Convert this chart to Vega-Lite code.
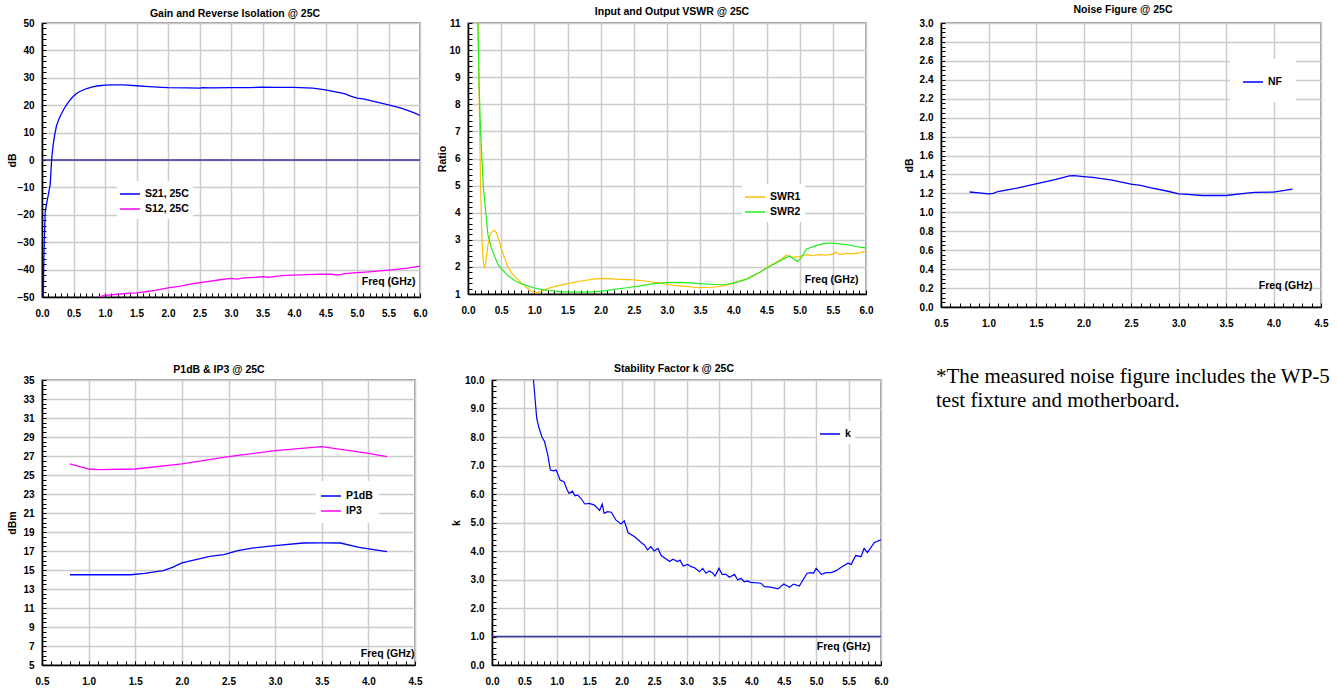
{
  "$schema": "https://vega.github.io/schema/vega-lite/v6.json",
  "background": "white",
  "padding": {"left": 6, "top": 3, "right": 0, "bottom": 0},
  "config": {
    "font": "Liberation Sans",
    "view": {"stroke": "#808080", "strokeWidth": 1.5},
    "title": {"font": "Liberation Sans", "fontSize": 10.5, "fontWeight": "bold", "color": "black", "baseline": "alphabetic", "frame": "group"},
    "axis": {
      "labelFont": "Liberation Sans", "labelFontSize": 10, "labelFontWeight": "bold", "labelColor": "black",
      "titleFont": "Liberation Sans", "titleFontSize": 10.5, "titleFontWeight": "bold", "titleColor": "black",
      "domainColor": "black", "domainWidth": 1.5,
      "tickColor": "black", "tickWidth": 1, "tickSize": -4,
      "gridColor": "#cccccc", "gridWidth": 1.5,
      "labelOverlap": false, "labelFlush": false, "labelBound": false
    },
    "axisX": {"labelPadding": 15.5},
    "axisY": {"labelPadding": 12}
  },
  "datasets": {
    "gain": [
      {"f":0.02,"v":-50,"s":"S21, 25C"},{"f":0.03,"v":-35,"s":"S21, 25C"},{"f":0.05,"v":-19,"s":"S21, 25C"},{"f":0.08,"v":-15,"s":"S21, 25C"},{"f":0.11,"v":-11.5,"s":"S21, 25C"},{"f":0.13,"v":-9,"s":"S21, 25C"},{"f":0.14,"v":-5,"s":"S21, 25C"},{"f":0.15,"v":-1,"s":"S21, 25C"},{"f":0.16,"v":2,"s":"S21, 25C"},{"f":0.18,"v":6,"s":"S21, 25C"},{"f":0.2,"v":9,"s":"S21, 25C"},{"f":0.23,"v":12.5,"s":"S21, 25C"},{"f":0.27,"v":15,"s":"S21, 25C"},{"f":0.3,"v":16.5,"s":"S21, 25C"},{"f":0.35,"v":18.7,"s":"S21, 25C"},{"f":0.4,"v":20.5,"s":"S21, 25C"},{"f":0.45,"v":22,"s":"S21, 25C"},{"f":0.5,"v":23.3,"s":"S21, 25C"},{"f":0.55,"v":24.3,"s":"S21, 25C"},{"f":0.6,"v":25,"s":"S21, 25C"},{"f":0.7,"v":26,"s":"S21, 25C"},{"f":0.8,"v":26.7,"s":"S21, 25C"},{"f":0.9,"v":27.1,"s":"S21, 25C"},{"f":1.0,"v":27.3,"s":"S21, 25C"},{"f":1.1,"v":27.4,"s":"S21, 25C"},{"f":1.3,"v":27.4,"s":"S21, 25C"},{"f":1.5,"v":27.1,"s":"S21, 25C"},{"f":1.7,"v":26.8,"s":"S21, 25C"},{"f":1.9,"v":26.5,"s":"S21, 25C"},{"f":2.0,"v":26.4,"s":"S21, 25C"},{"f":2.3,"v":26.3,"s":"S21, 25C"},{"f":2.5,"v":26.2,"s":"S21, 25C"},{"f":2.55,"v":26.4,"s":"S21, 25C"},{"f":2.7,"v":26.3,"s":"S21, 25C"},{"f":3.0,"v":26.4,"s":"S21, 25C"},{"f":3.3,"v":26.4,"s":"S21, 25C"},{"f":3.5,"v":26.6,"s":"S21, 25C"},{"f":3.7,"v":26.5,"s":"S21, 25C"},{"f":4.0,"v":26.5,"s":"S21, 25C"},{"f":4.2,"v":26.3,"s":"S21, 25C"},{"f":4.3,"v":26.2,"s":"S21, 25C"},{"f":4.5,"v":25.6,"s":"S21, 25C"},{"f":4.7,"v":24.7,"s":"S21, 25C"},{"f":4.8,"v":24.2,"s":"S21, 25C"},{"f":4.9,"v":23.3,"s":"S21, 25C"},{"f":5.0,"v":22.6,"s":"S21, 25C"},{"f":5.1,"v":22.3,"s":"S21, 25C"},{"f":5.3,"v":21.2,"s":"S21, 25C"},{"f":5.5,"v":20.1,"s":"S21, 25C"},{"f":5.7,"v":18.9,"s":"S21, 25C"},{"f":5.9,"v":17.3,"s":"S21, 25C"},{"f":6.0,"v":16.3,"s":"S21, 25C"},
      {"f":0.9,"v":-50,"s":"S12, 25C"},{"f":1.0,"v":-49.4,"s":"S12, 25C"},{"f":1.2,"v":-49,"s":"S12, 25C"},{"f":1.4,"v":-48.6,"s":"S12, 25C"},{"f":1.5,"v":-48.5,"s":"S12, 25C"},{"f":1.7,"v":-47.9,"s":"S12, 25C"},{"f":1.8,"v":-47.6,"s":"S12, 25C"},{"f":2.0,"v":-46.7,"s":"S12, 25C"},{"f":2.2,"v":-46,"s":"S12, 25C"},{"f":2.4,"v":-45.1,"s":"S12, 25C"},{"f":2.5,"v":-44.8,"s":"S12, 25C"},{"f":2.6,"v":-44.5,"s":"S12, 25C"},{"f":2.8,"v":-43.8,"s":"S12, 25C"},{"f":3.0,"v":-43.2,"s":"S12, 25C"},{"f":3.1,"v":-43.5,"s":"S12, 25C"},{"f":3.2,"v":-43,"s":"S12, 25C"},{"f":3.4,"v":-42.8,"s":"S12, 25C"},{"f":3.5,"v":-42.6,"s":"S12, 25C"},{"f":3.6,"v":-42.8,"s":"S12, 25C"},{"f":3.8,"v":-42.2,"s":"S12, 25C"},{"f":4.0,"v":-42,"s":"S12, 25C"},{"f":4.2,"v":-41.8,"s":"S12, 25C"},{"f":4.4,"v":-41.7,"s":"S12, 25C"},{"f":4.6,"v":-41.7,"s":"S12, 25C"},{"f":4.7,"v":-42,"s":"S12, 25C"},{"f":4.8,"v":-41.5,"s":"S12, 25C"},{"f":5.0,"v":-41.1,"s":"S12, 25C"},{"f":5.2,"v":-40.8,"s":"S12, 25C"},{"f":5.4,"v":-40.4,"s":"S12, 25C"},{"f":5.6,"v":-40,"s":"S12, 25C"},{"f":5.8,"v":-39.5,"s":"S12, 25C"},{"f":6.0,"v":-38.7,"s":"S12, 25C"}
    ],
    "vswr": [
      {"f":0.15,"v":11,"s":"SWR1"},{"f":0.17,"v":8,"s":"SWR1"},{"f":0.19,"v":5,"s":"SWR1"},{"f":0.21,"v":3,"s":"SWR1"},{"f":0.23,"v":2.2,"s":"SWR1"},{"f":0.25,"v":1.95,"s":"SWR1"},{"f":0.27,"v":2.2,"s":"SWR1"},{"f":0.3,"v":2.8,"s":"SWR1"},{"f":0.33,"v":3.15,"s":"SWR1"},{"f":0.37,"v":3.32,"s":"SWR1"},{"f":0.4,"v":3.35,"s":"SWR1"},{"f":0.43,"v":3.25,"s":"SWR1"},{"f":0.47,"v":2.95,"s":"SWR1"},{"f":0.5,"v":2.7,"s":"SWR1"},{"f":0.55,"v":2.35,"s":"SWR1"},{"f":0.6,"v":2.0,"s":"SWR1"},{"f":0.65,"v":1.8,"s":"SWR1"},{"f":0.7,"v":1.65,"s":"SWR1"},{"f":0.8,"v":1.42,"s":"SWR1"},{"f":0.9,"v":1.2,"s":"SWR1"},{"f":0.95,"v":1.1,"s":"SWR1"},{"f":1.0,"v":1.05,"s":"SWR1"},{"f":1.05,"v":1.05,"s":"SWR1"},{"f":1.1,"v":1.1,"s":"SWR1"},{"f":1.2,"v":1.2,"s":"SWR1"},{"f":1.3,"v":1.27,"s":"SWR1"},{"f":1.5,"v":1.38,"s":"SWR1"},{"f":1.7,"v":1.48,"s":"SWR1"},{"f":1.9,"v":1.55,"s":"SWR1"},{"f":2.0,"v":1.58,"s":"SWR1"},{"f":2.1,"v":1.57,"s":"SWR1"},{"f":2.3,"v":1.54,"s":"SWR1"},{"f":2.5,"v":1.52,"s":"SWR1"},{"f":2.7,"v":1.47,"s":"SWR1"},{"f":2.9,"v":1.4,"s":"SWR1"},{"f":3.0,"v":1.35,"s":"SWR1"},{"f":3.2,"v":1.3,"s":"SWR1"},{"f":3.4,"v":1.25,"s":"SWR1"},{"f":3.5,"v":1.23,"s":"SWR1"},{"f":3.7,"v":1.25,"s":"SWR1"},{"f":3.9,"v":1.33,"s":"SWR1"},{"f":4.0,"v":1.4,"s":"SWR1"},{"f":4.2,"v":1.55,"s":"SWR1"},{"f":4.4,"v":1.8,"s":"SWR1"},{"f":4.5,"v":1.97,"s":"SWR1"},{"f":4.7,"v":2.25,"s":"SWR1"},{"f":4.8,"v":2.43,"s":"SWR1"},{"f":4.85,"v":2.38,"s":"SWR1"},{"f":4.9,"v":2.35,"s":"SWR1"},{"f":5.0,"v":2.38,"s":"SWR1"},{"f":5.1,"v":2.45,"s":"SWR1"},{"f":5.2,"v":2.42,"s":"SWR1"},{"f":5.3,"v":2.45,"s":"SWR1"},{"f":5.4,"v":2.43,"s":"SWR1"},{"f":5.5,"v":2.47,"s":"SWR1"},{"f":5.55,"v":2.55,"s":"SWR1"},{"f":5.6,"v":2.45,"s":"SWR1"},{"f":5.7,"v":2.5,"s":"SWR1"},{"f":5.8,"v":2.48,"s":"SWR1"},{"f":5.9,"v":2.52,"s":"SWR1"},{"f":6.0,"v":2.58,"s":"SWR1"},
      {"f":0.15,"v":11,"s":"SWR2"},{"f":0.17,"v":8.5,"s":"SWR2"},{"f":0.19,"v":7,"s":"SWR2"},{"f":0.21,"v":6,"s":"SWR2"},{"f":0.23,"v":5,"s":"SWR2"},{"f":0.26,"v":4.2,"s":"SWR2"},{"f":0.3,"v":3.2,"s":"SWR2"},{"f":0.35,"v":2.7,"s":"SWR2"},{"f":0.4,"v":2.4,"s":"SWR2"},{"f":0.45,"v":2.1,"s":"SWR2"},{"f":0.5,"v":1.95,"s":"SWR2"},{"f":0.6,"v":1.68,"s":"SWR2"},{"f":0.7,"v":1.5,"s":"SWR2"},{"f":0.8,"v":1.38,"s":"SWR2"},{"f":0.9,"v":1.3,"s":"SWR2"},{"f":1.0,"v":1.22,"s":"SWR2"},{"f":1.1,"v":1.17,"s":"SWR2"},{"f":1.2,"v":1.13,"s":"SWR2"},{"f":1.4,"v":1.09,"s":"SWR2"},{"f":1.6,"v":1.07,"s":"SWR2"},{"f":1.8,"v":1.07,"s":"SWR2"},{"f":2.0,"v":1.1,"s":"SWR2"},{"f":2.2,"v":1.17,"s":"SWR2"},{"f":2.4,"v":1.23,"s":"SWR2"},{"f":2.6,"v":1.3,"s":"SWR2"},{"f":2.8,"v":1.38,"s":"SWR2"},{"f":3.0,"v":1.42,"s":"SWR2"},{"f":3.2,"v":1.43,"s":"SWR2"},{"f":3.4,"v":1.4,"s":"SWR2"},{"f":3.5,"v":1.38,"s":"SWR2"},{"f":3.7,"v":1.35,"s":"SWR2"},{"f":3.9,"v":1.36,"s":"SWR2"},{"f":4.0,"v":1.4,"s":"SWR2"},{"f":4.2,"v":1.55,"s":"SWR2"},{"f":4.4,"v":1.8,"s":"SWR2"},{"f":4.5,"v":1.95,"s":"SWR2"},{"f":4.7,"v":2.22,"s":"SWR2"},{"f":4.8,"v":2.35,"s":"SWR2"},{"f":4.85,"v":2.4,"s":"SWR2"},{"f":4.9,"v":2.3,"s":"SWR2"},{"f":4.97,"v":2.2,"s":"SWR2"},{"f":5.0,"v":2.28,"s":"SWR2"},{"f":5.05,"v":2.45,"s":"SWR2"},{"f":5.1,"v":2.65,"s":"SWR2"},{"f":5.2,"v":2.75,"s":"SWR2"},{"f":5.3,"v":2.82,"s":"SWR2"},{"f":5.4,"v":2.88,"s":"SWR2"},{"f":5.5,"v":2.88,"s":"SWR2"},{"f":5.6,"v":2.85,"s":"SWR2"},{"f":5.7,"v":2.82,"s":"SWR2"},{"f":5.8,"v":2.78,"s":"SWR2"},{"f":5.9,"v":2.73,"s":"SWR2"},{"f":6.0,"v":2.7,"s":"SWR2"}
    ],
    "nf": [
      {"f":0.8,"v":1.215,"s":"NF"},{"f":0.9,"v":1.205,"s":"NF"},{"f":1.0,"v":1.195,"s":"NF"},{"f":1.05,"v":1.2,"s":"NF"},{"f":1.1,"v":1.22,"s":"NF"},{"f":1.3,"v":1.255,"s":"NF"},{"f":1.5,"v":1.3,"s":"NF"},{"f":1.7,"v":1.345,"s":"NF"},{"f":1.85,"v":1.385,"s":"NF"},{"f":1.9,"v":1.388,"s":"NF"},{"f":2.0,"v":1.378,"s":"NF"},{"f":2.1,"v":1.37,"s":"NF"},{"f":2.3,"v":1.34,"s":"NF"},{"f":2.5,"v":1.297,"s":"NF"},{"f":2.6,"v":1.285,"s":"NF"},{"f":2.7,"v":1.26,"s":"NF"},{"f":2.9,"v":1.22,"s":"NF"},{"f":3.0,"v":1.195,"s":"NF"},{"f":3.1,"v":1.19,"s":"NF"},{"f":3.25,"v":1.178,"s":"NF"},{"f":3.5,"v":1.178,"s":"NF"},{"f":3.7,"v":1.2,"s":"NF"},{"f":3.8,"v":1.21,"s":"NF"},{"f":4.0,"v":1.213,"s":"NF"},{"f":4.2,"v":1.245,"s":"NF"}
    ],
    "pwr": [
      {"f":0.8,"v":14.5,"s":"P1dB"},{"f":1.0,"v":14.5,"s":"P1dB"},{"f":1.45,"v":14.5,"s":"P1dB"},{"f":1.6,"v":14.65,"s":"P1dB"},{"f":1.8,"v":14.93,"s":"P1dB"},{"f":1.9,"v":15.28,"s":"P1dB"},{"f":2.0,"v":15.74,"s":"P1dB"},{"f":2.15,"v":16.1,"s":"P1dB"},{"f":2.3,"v":16.44,"s":"P1dB"},{"f":2.45,"v":16.61,"s":"P1dB"},{"f":2.6,"v":17.03,"s":"P1dB"},{"f":2.75,"v":17.3,"s":"P1dB"},{"f":3.0,"v":17.56,"s":"P1dB"},{"f":3.3,"v":17.84,"s":"P1dB"},{"f":3.5,"v":17.86,"s":"P1dB"},{"f":3.7,"v":17.84,"s":"P1dB"},{"f":3.9,"v":17.39,"s":"P1dB"},{"f":4.2,"v":16.93,"s":"P1dB"},
      {"f":0.8,"v":26.16,"s":"IP3"},{"f":1.0,"v":25.63,"s":"IP3"},{"f":1.1,"v":25.56,"s":"IP3"},{"f":1.5,"v":25.63,"s":"IP3"},{"f":2.0,"v":26.16,"s":"IP3"},{"f":2.5,"v":26.93,"s":"IP3"},{"f":3.0,"v":27.56,"s":"IP3"},{"f":3.5,"v":27.98,"s":"IP3"},{"f":3.8,"v":27.56,"s":"IP3"},{"f":4.0,"v":27.28,"s":"IP3"},{"f":4.2,"v":26.93,"s":"IP3"}
    ],
    "kf": [
      {"f":0.64,"v":10.0,"s":"k"},{"f":0.69,"v":8.65,"s":"k"},{"f":0.72,"v":8.36,"s":"k"},{"f":0.77,"v":8.0,"s":"k"},{"f":0.81,"v":7.84,"s":"k"},{"f":0.86,"v":7.37,"s":"k"},{"f":0.9,"v":6.84,"s":"k"},{"f":0.95,"v":6.81,"s":"k"},{"f":0.99,"v":6.84,"s":"k"},{"f":1.03,"v":6.61,"s":"k"},{"f":1.05,"v":6.49,"s":"k"},{"f":1.11,"v":6.43,"s":"k"},{"f":1.16,"v":6.14,"s":"k"},{"f":1.19,"v":6.02,"s":"k"},{"f":1.24,"v":6.1,"s":"k"},{"f":1.28,"v":5.94,"s":"k"},{"f":1.32,"v":5.96,"s":"k"},{"f":1.37,"v":5.85,"s":"k"},{"f":1.43,"v":5.65,"s":"k"},{"f":1.5,"v":5.67,"s":"k"},{"f":1.58,"v":5.61,"s":"k"},{"f":1.66,"v":5.42,"s":"k"},{"f":1.7,"v":5.65,"s":"k"},{"f":1.73,"v":5.32,"s":"k"},{"f":1.78,"v":5.38,"s":"k"},{"f":1.84,"v":5.36,"s":"k"},{"f":1.91,"v":5.09,"s":"k"},{"f":1.99,"v":4.95,"s":"k"},{"f":2.04,"v":5.06,"s":"k"},{"f":2.1,"v":4.64,"s":"k"},{"f":2.2,"v":4.5,"s":"k"},{"f":2.3,"v":4.3,"s":"k"},{"f":2.35,"v":4.21,"s":"k"},{"f":2.4,"v":4.04,"s":"k"},{"f":2.45,"v":4.15,"s":"k"},{"f":2.5,"v":4.0,"s":"k"},{"f":2.56,"v":4.09,"s":"k"},{"f":2.61,"v":3.84,"s":"k"},{"f":2.74,"v":3.63,"s":"k"},{"f":2.79,"v":3.71,"s":"k"},{"f":2.86,"v":3.63,"s":"k"},{"f":2.9,"v":3.68,"s":"k"},{"f":2.95,"v":3.47,"s":"k"},{"f":3.02,"v":3.53,"s":"k"},{"f":3.07,"v":3.45,"s":"k"},{"f":3.12,"v":3.42,"s":"k"},{"f":3.2,"v":3.27,"s":"k"},{"f":3.25,"v":3.39,"s":"k"},{"f":3.3,"v":3.22,"s":"k"},{"f":3.35,"v":3.3,"s":"k"},{"f":3.4,"v":3.24,"s":"k"},{"f":3.44,"v":3.12,"s":"k"},{"f":3.5,"v":3.39,"s":"k"},{"f":3.55,"v":3.18,"s":"k"},{"f":3.61,"v":3.18,"s":"k"},{"f":3.66,"v":3.08,"s":"k"},{"f":3.74,"v":3.18,"s":"k"},{"f":3.79,"v":2.98,"s":"k"},{"f":3.84,"v":3.04,"s":"k"},{"f":3.89,"v":2.92,"s":"k"},{"f":3.94,"v":2.95,"s":"k"},{"f":3.99,"v":2.9,"s":"k"},{"f":4.15,"v":2.87,"s":"k"},{"f":4.2,"v":2.75,"s":"k"},{"f":4.3,"v":2.73,"s":"k"},{"f":4.41,"v":2.67,"s":"k"},{"f":4.5,"v":2.84,"s":"k"},{"f":4.59,"v":2.73,"s":"k"},{"f":4.65,"v":2.84,"s":"k"},{"f":4.74,"v":2.77,"s":"k"},{"f":4.86,"v":3.22,"s":"k"},{"f":4.92,"v":3.24,"s":"k"},{"f":4.96,"v":3.22,"s":"k"},{"f":5.0,"v":3.39,"s":"k"},{"f":5.08,"v":3.18,"s":"k"},{"f":5.15,"v":3.24,"s":"k"},{"f":5.23,"v":3.24,"s":"k"},{"f":5.31,"v":3.31,"s":"k"},{"f":5.38,"v":3.42,"s":"k"},{"f":5.49,"v":3.57,"s":"k"},{"f":5.54,"v":3.53,"s":"k"},{"f":5.61,"v":3.84,"s":"k"},{"f":5.69,"v":3.8,"s":"k"},{"f":5.74,"v":4.09,"s":"k"},{"f":5.79,"v":3.95,"s":"k"},{"f":5.9,"v":4.3,"s":"k"},{"f":6.0,"v":4.39,"s":"k"}
    ],
    "blank": [{"t": ""}]
  },
  "spacing": 33,
  "bounds": "full",
  "resolve": {"scale": {"x": "independent", "y": "independent", "color": "independent"}, "axis": {"x": "independent", "y": "independent"}, "legend": {"color": "independent"}},
  "vconcat": [
    {
      "spacing": 48,
      "bounds": "flush",
      "resolve": {"scale": {"x": "independent", "y": "independent", "color": "independent"}, "axis": {"x": "independent", "y": "independent"}, "legend": {"color": "independent"}},
      "hconcat": [
        {
          "width": 378, "height": 274,
          "title": {"text": "Gain and Reverse Isolation @ 25C", "offset": 1.5, "dx": 4, "dy": 3},
          "encoding": {
            "y": {"field": "v", "type": "quantitative", "scale": {"domain": [-50, 50], "nice": false, "zero": false},
              "axis": {"title": "dB", "titleX": -30, "titleBaseline": "middle", "labelOverlap": false,
                "values": [-50,-48,-46,-44,-42,-40,-38,-36,-34,-32,-30,-28,-26,-24,-22,-20,-18,-16,-14,-12,-10,-8,-6,-4,-2,0,2,4,6,8,10,12,14,16,18,20,22,24,26,28,30,32,34,36,38,40,42,44,46,48,50],
                "labelExpr": "round(datum.value)%10==0 ? format(datum.value,'d') : ''",
                "gridOpacity": {"condition": {"test": "round(datum.value)%10==0", "value": 1}, "value": 0}}}
          },
          "layer": [
            {
              "data": {"values": [{"v": 0}]},
              "mark": {"type": "rule", "color": "#333399", "strokeWidth": 1.5},
              "encoding": {}
            },
            {
              "data": {"name": "gain"},
              "mark": {"type": "line", "strokeWidth": 1.3, "clip": true},
              "encoding": {
                "x": {"field": "f", "type": "quantitative", "scale": {"domain": [0, 6], "nice": false, "zero": false},
                  "axis": {"title": "Freq (GHz)", "titleX": 373, "titleY": -13, "titleAlign": "right", "titleBaseline": "alphabetic",
                    "values": [0,0.1,0.2,0.3,0.4,0.5,0.6,0.7,0.8,0.9,1,1.1,1.2,1.3,1.4,1.5,1.6,1.7,1.8,1.9,2,2.1,2.2,2.3,2.4,2.5,2.6,2.7,2.8,2.9,3,3.1,3.2,3.3,3.4,3.5,3.6,3.7,3.8,3.9,4,4.1,4.2,4.3,4.4,4.5,4.6,4.7,4.8,4.9,5,5.1,5.2,5.3,5.4,5.5,5.6,5.7,5.8,5.9,6],
                    "labelExpr": "round(datum.value*10)%5==0 ? format(datum.value,'.1f') : ''",
                    "gridOpacity": {"condition": {"test": "round(datum.value*10)%5==0", "value": 1}, "value": 0}}},
                "color": {"field": "s", "type": "nominal", "sort": null,
                  "scale": {"domain": ["S21, 25C", "S12, 25C"], "range": ["#0000ff", "#ff00ff"]},
                  "legend": {"title": null, "orient": "none", "legendX": 75, "legendY": 158, "fillColor": "white", "padding": 4,
                    "symbolType": "M-1.25,0H1.25", "symbolSize": 256, "symbolStrokeWidth": 1.5, "labelOffset": 6, "rowPadding": 0,
                    "labelFont": "Liberation Sans", "labelFontSize": 10.5, "labelFontWeight": "bold", "labelColor": "black"}}
              }
            }
          ]
        },
        {
          "spacing": 75,
          "bounds": "flush",
          "resolve": {"scale": {"x": "independent", "y": "independent", "color": "independent"}, "axis": {"x": "independent", "y": "independent"}, "legend": {"color": "independent"}},
          "hconcat": [
            {
              "width": 398, "height": 271,
              "title": {"text": "Input and Output VSWR @ 25C", "offset": 0.5, "dx": 5},
              "data": {"name": "vswr"},
              "mark": {"type": "line", "strokeWidth": 1.2, "clip": true},
              "encoding": {
                "x": {"field": "f", "type": "quantitative", "scale": {"domain": [0, 6], "nice": false, "zero": false},
                  "axis": {"title": "Freq (GHz)", "titleX": 390, "titleY": -12, "titleAlign": "right", "titleBaseline": "alphabetic",
                    "values": [0,0.1,0.2,0.3,0.4,0.5,0.6,0.7,0.8,0.9,1,1.1,1.2,1.3,1.4,1.5,1.6,1.7,1.8,1.9,2,2.1,2.2,2.3,2.4,2.5,2.6,2.7,2.8,2.9,3,3.1,3.2,3.3,3.4,3.5,3.6,3.7,3.8,3.9,4,4.1,4.2,4.3,4.4,4.5,4.6,4.7,4.8,4.9,5,5.1,5.2,5.3,5.4,5.5,5.6,5.7,5.8,5.9,6],
                    "labelExpr": "round(datum.value*10)%5==0 ? format(datum.value,'.1f') : ''",
                    "gridOpacity": {"condition": {"test": "round(datum.value*10)%5==0", "value": 1}, "value": 0}}},
                "y": {"field": "v", "type": "quantitative", "scale": {"domain": [1, 11], "nice": false, "zero": false},
                  "axis": {"title": "Ratio", "titleX": -26, "titleBaseline": "middle",
                    "values": [1,1.2,1.4,1.6,1.8,2,2.2,2.4,2.6,2.8,3,3.2,3.4,3.6,3.8,4,4.2,4.4,4.6,4.8,5,5.2,5.4,5.6,5.8,6,6.2,6.4,6.6,6.8,7,7.2,7.4,7.6,7.8,8,8.2,8.4,8.6,8.8,9,9.2,9.4,9.6,9.8,10,10.2,10.4,10.6,10.8,11],
                    "labelExpr": "abs(datum.value-round(datum.value))<0.01 ? format(datum.value,'d') : ''",
                    "gridOpacity": {"condition": {"test": "abs(datum.value-round(datum.value))<0.01", "value": 1}, "value": 0}}},
                "color": {"field": "s", "type": "nominal", "sort": null,
                  "scale": {"domain": ["SWR1", "SWR2"], "range": ["#ffbf00", "#22ee22"]},
                  "legend": {"title": null, "orient": "none", "legendX": 274, "legendY": 161, "fillColor": "white", "padding": 4,
                    "symbolType": "M-1.25,0H1.25", "symbolSize": 256, "symbolStrokeWidth": 1.5, "labelOffset": 6, "rowPadding": 0,
                    "labelFont": "Liberation Sans", "labelFontSize": 10.5, "labelFontWeight": "bold", "labelColor": "black"}}
              }
            },
            {
              "width": 380, "height": 284,
              "title": {"text": "Noise Figure @ 25C", "offset": 3, "dx": -8},
              "data": {"name": "nf"},
              "mark": {"type": "line", "strokeWidth": 1.3, "clip": true},
              "encoding": {
                "x": {"field": "f", "type": "quantitative", "scale": {"domain": [0.5, 4.5], "nice": false, "zero": false},
                  "axis": {"title": "Freq (GHz)", "titleX": 371, "titleY": -19, "titleAlign": "right", "titleBaseline": "alphabetic",
                    "values": [0.5,0.6,0.7,0.8,0.9,1,1.1,1.2,1.3,1.4,1.5,1.6,1.7,1.8,1.9,2,2.1,2.2,2.3,2.4,2.5,2.6,2.7,2.8,2.9,3,3.1,3.2,3.3,3.4,3.5,3.6,3.7,3.8,3.9,4,4.1,4.2,4.3,4.4,4.5],
                    "labelExpr": "round(datum.value*10)%5==0 ? format(datum.value,'.1f') : ''",
                    "gridOpacity": {"condition": {"test": "round(datum.value*10)%5==0", "value": 1}, "value": 0}}},
                "y": {"field": "v", "type": "quantitative", "scale": {"domain": [0, 3], "nice": false, "zero": false},
                  "axis": {"title": "dB", "titleX": -31.5, "titleBaseline": "middle",
                    "values": [0,0.05,0.1,0.15,0.2,0.25,0.3,0.35,0.4,0.45,0.5,0.55,0.6,0.65,0.7,0.75,0.8,0.85,0.9,0.95,1,1.05,1.1,1.15,1.2,1.25,1.3,1.35,1.4,1.45,1.5,1.55,1.6,1.65,1.7,1.75,1.8,1.85,1.9,1.95,2,2.05,2.1,2.15,2.2,2.25,2.3,2.35,2.4,2.45,2.5,2.55,2.6,2.65,2.7,2.75,2.8,2.85,2.9,2.95,3],
                    "labelExpr": "round(datum.value*20)%4==0 ? format(datum.value,'.1f') : ''",
                    "gridOpacity": {"condition": {"test": "round(datum.value*20)%4==0", "value": 1}, "value": 0}}},
                "color": {"field": "s", "type": "nominal",
                  "scale": {"domain": ["NF"], "range": ["#0000ff"]},
                  "legend": {"title": null, "orient": "none", "legendX": 289, "legendY": 36, "fillColor": "white", "padding": 14,
                    "symbolType": "M-1.25,0H1.25", "symbolSize": 256, "symbolStrokeWidth": 1.5, "labelOffset": 6, "rowPadding": 0,
                    "labelFont": "Liberation Sans", "labelFontSize": 10.5, "labelFontWeight": "bold", "labelColor": "black"}}
              }
            }
          ]
        }
      ]
    },
    {
      "spacing": 77,
      "bounds": "flush",
      "resolve": {"scale": {"x": "independent", "y": "independent", "color": "independent"}, "axis": {"x": "independent", "y": "independent"}, "legend": {"color": "independent"}},
      "hconcat": [
        {
          "width": 373, "height": 285,
          "title": {"text": "P1dB & IP3 @ 25C", "offset": 0, "dx": -9.5},
          "data": {"name": "pwr"},
          "mark": {"type": "line", "strokeWidth": 1.3, "clip": true},
          "encoding": {
            "x": {"field": "f", "type": "quantitative", "scale": {"domain": [0.5, 4.5], "nice": false, "zero": false},
              "axis": {"title": "Freq (GHz)", "titleX": 372, "titleY": -9, "titleAlign": "right", "titleBaseline": "alphabetic",
                "values": [0.5,0.6,0.7,0.8,0.9,1,1.1,1.2,1.3,1.4,1.5,1.6,1.7,1.8,1.9,2,2.1,2.2,2.3,2.4,2.5,2.6,2.7,2.8,2.9,3,3.1,3.2,3.3,3.4,3.5,3.6,3.7,3.8,3.9,4,4.1,4.2,4.3,4.4,4.5],
                "labelExpr": "round(datum.value*10)%5==0 ? format(datum.value,'.1f') : ''",
                "gridOpacity": {"condition": {"test": "round(datum.value*10)%5==0", "value": 1}, "value": 0}}},
            "y": {"field": "v", "type": "quantitative", "scale": {"domain": [5, 35], "nice": false, "zero": false},
              "axis": {"title": "dBm", "titleX": -30, "titleBaseline": "middle",
                "values": [5,5.5,6,6.5,7,7.5,8,8.5,9,9.5,10,10.5,11,11.5,12,12.5,13,13.5,14,14.5,15,15.5,16,16.5,17,17.5,18,18.5,19,19.5,20,20.5,21,21.5,22,22.5,23,23.5,24,24.5,25,25.5,26,26.5,27,27.5,28,28.5,29,29.5,30,30.5,31,31.5,32,32.5,33,33.5,34,34.5,35],
                "labelExpr": "round(datum.value*2)%4==2 ? format(datum.value,'d') : ''",
                "gridOpacity": {"condition": {"test": "round(datum.value*2)%4==2", "value": 1}, "value": 0}}},
            "color": {"field": "s", "type": "nominal", "sort": null,
              "scale": {"domain": ["P1dB", "IP3"], "range": ["#0000ff", "#ff00ff"]},
              "legend": {"title": null, "orient": "none", "legendX": 274, "legendY": 101, "fillColor": "white", "padding": 6,
                "symbolType": "M-1.25,0H1.25", "symbolSize": 256, "symbolStrokeWidth": 1.5, "labelOffset": 6, "rowPadding": 0,
                "labelFont": "Liberation Sans", "labelFontSize": 10.5, "labelFontWeight": "bold", "labelColor": "black"}}
          }
        },
        {
          "spacing": 55,
          "bounds": "flush",
          "resolve": {"scale": {"x": "independent", "y": "independent", "color": "independent"}, "axis": {"x": "independent", "y": "independent"}, "legend": {"color": "independent"}},
          "hconcat": [
            {
              "width": 389, "height": 285,
              "title": {"text": "Stability Factor k @ 25C", "offset": 0.5, "dx": -12.5},
              "encoding": {
                "y": {"field": "v", "type": "quantitative", "scale": {"domain": [0, 10], "nice": false, "zero": false},
                  "axis": {"title": "k", "titleX": -36, "titleBaseline": "middle", "labelOverlap": false,
                    "values": [0,0.2,0.4,0.6,0.8,1,1.2,1.4,1.6,1.8,2,2.2,2.4,2.6,2.8,3,3.2,3.4,3.6,3.8,4,4.2,4.4,4.6,4.8,5,5.2,5.4,5.6,5.8,6,6.2,6.4,6.6,6.8,7,7.2,7.4,7.6,7.8,8,8.2,8.4,8.6,8.8,9,9.2,9.4,9.6,9.8,10],
                    "labelExpr": "abs(datum.value-round(datum.value))<0.01 ? format(datum.value,'.1f') : ''",
                    "gridOpacity": {"condition": {"test": "abs(datum.value-round(datum.value))<0.01", "value": 1}, "value": 0}}}
              },
              "layer": [
                {
                  "data": {"values": [{"v": 1}]},
                  "mark": {"type": "rule", "color": "#333399", "strokeWidth": 1.5},
                  "encoding": {}
                },
                {
                  "data": {"name": "kf"},
                  "mark": {"type": "line", "strokeWidth": 1.2, "clip": true},
                  "encoding": {
                    "x": {"field": "f", "type": "quantitative", "scale": {"domain": [0, 6], "nice": false, "zero": false},
                      "axis": {"title": "Freq (GHz)", "titleX": 378, "titleY": -16, "titleAlign": "right", "titleBaseline": "alphabetic",
                        "values": [0,0.1,0.2,0.3,0.4,0.5,0.6,0.7,0.8,0.9,1,1.1,1.2,1.3,1.4,1.5,1.6,1.7,1.8,1.9,2,2.1,2.2,2.3,2.4,2.5,2.6,2.7,2.8,2.9,3,3.1,3.2,3.3,3.4,3.5,3.6,3.7,3.8,3.9,4,4.1,4.2,4.3,4.4,4.5,4.6,4.7,4.8,4.9,5,5.1,5.2,5.3,5.4,5.5,5.6,5.7,5.8,5.9,6],
                        "labelExpr": "round(datum.value*10)%5==0 ? format(datum.value,'.1f') : ''",
                        "gridOpacity": {"condition": {"test": "round(datum.value*10)%5==0", "value": 1}, "value": 0}}},
                    "color": {"field": "s", "type": "nominal",
                      "scale": {"domain": ["k"], "range": ["#0000ff"]},
                      "legend": {"title": null, "orient": "none", "legendX": 325, "legendY": 41, "fillColor": "white", "padding": 4,
                        "symbolType": "M-1.25,0H1.25", "symbolSize": 256, "symbolStrokeWidth": 1.5, "labelOffset": 6, "rowPadding": 0,
                        "labelFont": "Liberation Sans", "labelFontSize": 10.5, "labelFontWeight": "bold", "labelColor": "black"}}
                  }
                }
              ]
            },
            {
              "width": 400, "height": 285,
              "view": {"stroke": null},
              "title": {"text": ["*The measured noise figure includes the WP-5", "test fixture and motherboard."],
                "anchor": "start", "frame": "group", "font": "Liberation Serif", "fontSize": 21, "fontWeight": "normal",
                "lineHeight": 24, "baseline": "top", "offset": 14, "dy": 45},
              "data": {"name": "blank"},
              "mark": {"type": "text"},
              "encoding": {"text": {"field": "t"}}
            }
          ]
        }
      ]
    }
  ]
}
